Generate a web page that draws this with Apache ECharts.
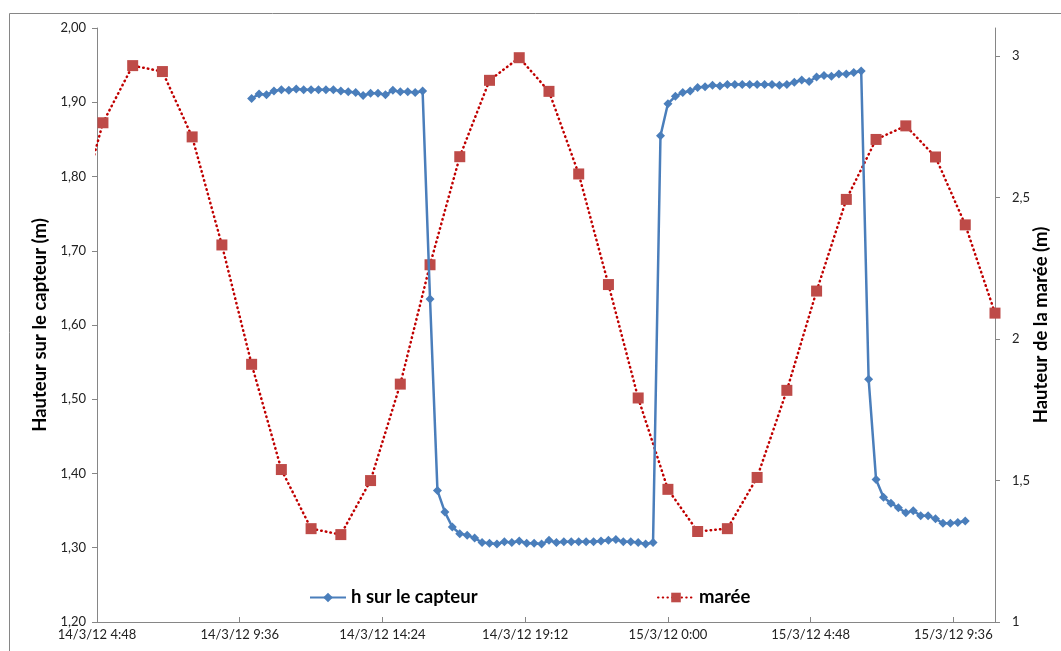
<!DOCTYPE html>
<html>
<head>
<meta charset="utf-8">
<script src="https://cdn.jsdelivr.net/npm/echarts@6/dist/echarts.min.js"></script>
<style>
  html, body { margin: 0; padding: 0; background: #ffffff; }
  #chart { width: 1061px; height: 651px; }
</style>
</head>
<body>
<div id="chart"></div>
<script>
// ---- Data (hours counted from 14/3/12 00:00) ----
const xTickHours = [4.8, 9.6, 14.4, 19.2, 24, 28.8, 33.6];
const xMinHour = 4.8;
const xMaxHour = 35;

const leftTicks = [1.2, 1.3, 1.4, 1.5, 1.6, 1.7, 1.8, 1.9, 2.0];
const rightTicks = [1, 1.5, 2, 2.5, 3];

// h sur le capteur : every 15 minutes from 14/3/12 10:00
const capteurStartHour = 10;
const capteurStepHours = 0.25;
const capteurValues = [
  1.905, 1.911, 1.910, 1.915, 1.917, 1.916, 1.918, 1.917, 1.917, 1.917, 1.917, 1.917,
  1.915, 1.914, 1.913, 1.909, 1.912, 1.912, 1.910, 1.916, 1.914, 1.914, 1.913, 1.915,
  1.635,
  1.377, 1.348, 1.328, 1.319, 1.317, 1.313, 1.307, 1.306, 1.305, 1.308, 1.307, 1.309,
  1.306, 1.306, 1.305, 1.310, 1.307, 1.308, 1.308, 1.308, 1.308, 1.308, 1.309, 1.310,
  1.311, 1.308, 1.308, 1.307, 1.305, 1.307,
  1.855,
  1.898, 1.908, 1.913, 1.915, 1.920, 1.921, 1.923, 1.922, 1.924, 1.924, 1.924, 1.924,
  1.924, 1.924, 1.924, 1.923, 1.924, 1.927, 1.930, 1.928, 1.934, 1.936, 1.935, 1.938,
  1.938, 1.940, 1.942,
  1.527, 1.392, 1.368, 1.360, 1.354, 1.347, 1.350, 1.343, 1.343, 1.339, 1.333, 1.333,
  1.334, 1.336
];

// marée : hourly from 14/3/12 04:00
const mareeStartHour = 4;
const mareeStepHours = 1;
const mareeValues = [
  2.38, 2.765, 2.967, 2.946, 2.715, 2.333, 1.911, 1.539, 1.330, 1.309, 1.500, 1.841,
  2.263, 2.645, 2.915, 2.995, 2.876, 2.584, 2.193, 1.792, 1.469, 1.320, 1.330, 1.511,
  1.819, 2.170, 2.494, 2.706, 2.754, 2.644, 2.404, 2.092
];

// ---- Build series data ----
const capteurData = capteurValues.map((v, i) => [capteurStartHour + i * capteurStepHours, v]);
const mareeData = mareeValues.map((v, i) => [mareeStartHour + i * mareeStepHours, v]);

function fmtTime(h) {
  const day = 14 + Math.floor((h + 1e-9) / 24);
  const hr = (h + 1e-9) % 24;
  let hh = Math.floor(hr);
  let mm = Math.round((hr - hh) * 60);
  if (mm === 60) { hh += 1; mm = 0; }
  return day + '/3/12 ' + hh + ':' + (mm < 10 ? '0' + mm : mm);
}

const font = 'Lato, "Liberation Sans", sans-serif';
const axisGray = '#868686';

const chart = echarts.init(document.getElementById('chart'), null, { renderer: 'canvas' });
chart.setOption({
  backgroundColor: '#ffffff',
  animation: false,
  textStyle: { fontFamily: font },
  graphic: [{
    type: 'rect',
    shape: { x: 9.5, y: 13.5, width: 1200, height: 800 },
    style: { fill: 'none', stroke: axisGray, lineWidth: 1 },
    silent: true, z: -10
  }],
  grid: { left: 97, right: 66, top: 28, bottom: 29, containLabel: false, outerBoundsMode: 'none' },
  legend: [{
    data: ['h sur le capteur'],
    left: 309, top: 588, padding: 0,
    itemWidth: 36, itemHeight: 12, itemGap: 0,
    textStyle: { fontFamily: font, fontSize: 18.5, fontWeight: 'bold', color: '#000' }
  }, {
    data: ['marée'],
    left: 657, top: 588, padding: 0,
    itemWidth: 36, itemHeight: 12, itemGap: 0,
    textStyle: { fontFamily: font, fontSize: 18.5, fontWeight: 'bold', color: '#000' }
  }],
  xAxis: {
    type: 'value',
    min: xMinHour, max: xMaxHour,
    axisLine: { onZero: false, lineStyle: { color: axisGray, width: 1 } },
    axisTick: { inside: true, length: 5, customValues: xTickHours, lineStyle: { color: axisGray } },
    axisLabel: {
      customValues: xTickHours,
      formatter: v => fmtTime(v),
      color: '#222', fontSize: 13, margin: 6, fontFamily: font
    },
    splitLine: { show: false }
  },
  yAxis: [{
    type: 'value',
    min: 1.2, max: 2.0, interval: 0.1,
    name: 'Hauteur sur le capteur (m)',
    nameLocation: 'middle', nameRotate: 90, nameGap: 46,
    nameTextStyle: { fontFamily: font, fontSize: 18.5, fontWeight: 'bold', color: '#000' },
    axisLine: { show: true, lineStyle: { color: axisGray } },
    axisTick: { show: true, length: 5, customValues: leftTicks, lineStyle: { color: axisGray } },
    axisLabel: {
      customValues: leftTicks,
      formatter: v => v.toFixed(2).replace('.', ','),
      color: '#222', fontSize: 13, margin: 11, fontFamily: font
    },
    splitLine: { show: false }
  }, {
    type: 'value',
    position: 'right',
    min: 1, max: 3.1, interval: 0.5,
    name: 'Hauteur de la marée (m)',
    nameLocation: 'middle', nameRotate: 90, nameGap: 37,
    nameMoveOverlap: false,
    nameTextStyle: { fontFamily: font, fontSize: 18.5, fontWeight: 'bold', color: '#000' },
    axisLine: { show: true, lineStyle: { color: axisGray } },
    axisTick: { show: true, length: 5, customValues: rightTicks, lineStyle: { color: axisGray } },
    axisLabel: {
      customValues: rightTicks,
      formatter: v => String(v).replace('.', ','),
      color: '#222', fontSize: 13, margin: 17, fontFamily: font
    },
    splitLine: { show: false }
  }],
  series: [{
    name: 'h sur le capteur',
    type: 'line',
    yAxisIndex: 0,
    data: capteurData,
    symbol: 'diamond',
    symbolSize: 9,
    showAllSymbol: true,
    clip: true,
    itemStyle: { color: '#4A7EBB' },
    lineStyle: { color: '#4A7EBB', width: 2.5 },
    z: 3
  }, {
    name: 'marée',
    type: 'line',
    yAxisIndex: 1,
    data: mareeData,
    symbol: 'rect',
    symbolSize: 11,
    showAllSymbol: true,
    clip: true,
    itemStyle: { color: '#BE4B48' },
    lineStyle: { color: '#C00000', width: 2.5, type: [0.5, 4.2], cap: 'round' },
    z: 2
  }]
});
</script>
</body>
</html>
